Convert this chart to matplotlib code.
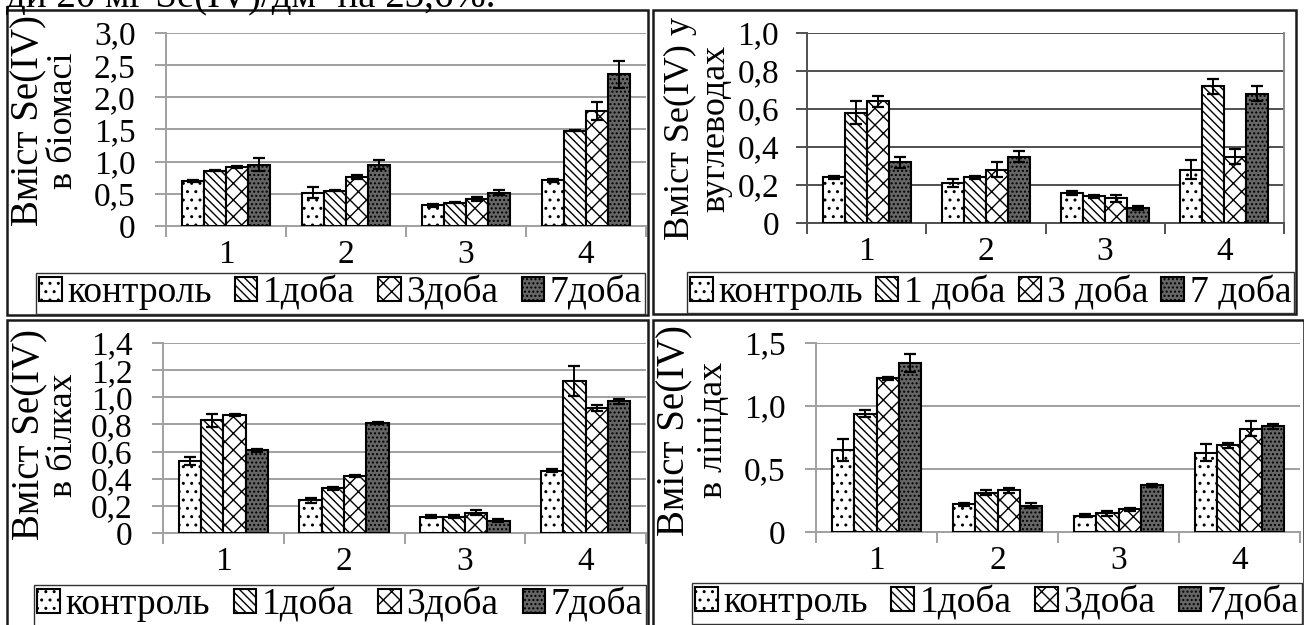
import matplotlib
matplotlib.use("Agg")
import numpy as np
import matplotlib.pyplot as plt
from matplotlib.patches import Rectangle

plt.rcParams["font.family"] = ["Liberation Serif", "DejaVu Serif"]
plt.rcParams["hatch.linewidth"] = 1.0

W, H = 1304, 625

categories = ["1", "2", "3", "4"]
series_hatches = ["..", "\\\\\\\\", "xx", "...."]
series_colors = ["white", "white", "white", "#666666"]

labels_plain = ["контроль", "1доба", "3доба", "7доба"]
labels_spaced = ["контроль", "1 доба", "3 доба", "7 доба"]

# rows: контроль, 1 доба, 3 доба, 7 доба ; columns: categories 1..4
biomass_mean = [
    [0.70, 0.52, 0.32, 0.71],
    [0.86, 0.55, 0.36, 1.48],
    [0.92, 0.76, 0.42, 1.78],
    [0.95, 0.95, 0.52, 2.36],
]
biomass_err = [
    [0.02, 0.08, 0.02, 0.02],
    [0.01, 0.01, 0.01, 0.01],
    [0.02, 0.03, 0.03, 0.14],
    [0.10, 0.07, 0.04, 0.21],
]

carb_mean = [
    [0.24, 0.21, 0.16, 0.28],
    [0.58, 0.24, 0.14, 0.72],
    [0.64, 0.28, 0.13, 0.35],
    [0.32, 0.35, 0.08, 0.68],
]
carb_err = [
    [0.01, 0.02, 0.01, 0.05],
    [0.06, 0.01, 0.01, 0.04],
    [0.03, 0.04, 0.02, 0.04],
    [0.03, 0.03, 0.01, 0.04],
]

protein_mean = [
    [0.53, 0.24, 0.12, 0.46],
    [0.83, 0.33, 0.12, 1.12],
    [0.87, 0.42, 0.15, 0.92],
    [0.61, 0.81, 0.09, 0.97],
]
protein_err = [
    [0.03, 0.02, 0.01, 0.01],
    [0.05, 0.01, 0.01, 0.11],
    [0.01, 0.01, 0.02, 0.02],
    [0.01, 0.01, 0.01, 0.02],
]

lipid_mean = [
    [0.65, 0.22, 0.13, 0.63],
    [0.94, 0.31, 0.15, 0.69],
    [1.22, 0.33, 0.18, 0.82],
    [1.34, 0.21, 0.37, 0.84],
]
lipid_err = [
    [0.09, 0.01, 0.01, 0.07],
    [0.03, 0.02, 0.02, 0.02],
    [0.01, 0.02, 0.01, 0.06],
    [0.07, 0.02, 0.01, 0.02],
]

biomass_ticks = [0, 0.5, 1.0, 1.5, 2.0, 2.5, 3.0]
carb_ticks = [0, 0.2, 0.4, 0.6, 0.8, 1.0]
protein_ticks = [0, 0.2, 0.4, 0.6, 0.8, 1.0, 1.2, 1.4]
lipid_ticks = [0, 0.5, 1.0, 1.5]


def fmt(v):
    if v == 0:
        return "0"
    return f"{v:.1f}".replace(".", ",")


def rect(x0, y0, x1, y1):
    return [x0 / W, 1 - y1 / H, (x1 - x0) / W, (y1 - y0) / H]


def draw_panel(fig, ax_px, box_px, leg_px, means, errs, ticks, ylabels,
               ylabel_pos, ylabel_size, leg_labels, grid_color, tick_pad,
               right_spine=False):
    # panel frame
    x0, y0, x1, y1 = box_px
    fig.add_artist(Rectangle((x0 / W, 1 - y1 / H), (x1 - x0) / W, (y1 - y0) / H,
                             transform=fig.transFigure, fill=False,
                             edgecolor="#1a1a1a", linewidth=1.8, zorder=0))

    ax = fig.add_axes(rect(*ax_px))
    ax.set_xlim(0, 4)
    ax.set_ylim(0, ticks[-1])

    width = 0.185
    x = np.arange(len(categories)) + 0.5
    handles = []
    for i in range(4):
        b = ax.bar(x + (i - 1.5) * width, means[i], width,
                   color=series_colors[i], edgecolor="black",
                   hatch=series_hatches[i], linewidth=1.5, zorder=3)
        handles.append(b)
        ax.errorbar(x + (i - 1.5) * width, means[i], yerr=errs[i], fmt="none",
                    ecolor="black", elinewidth=1.4, capsize=4.5,
                    capthick=1.6, zorder=4)

    ax.set_yticks(ticks)
    ax.set_yticklabels([fmt(t) for t in ticks])
    ax.yaxis.grid(True, color=grid_color, linewidth=1.4, zorder=0)
    ax.set_axisbelow(True)

    ax.set_xticks([0, 1, 2, 3, 4])
    ax.set_xticklabels([])
    ax.set_xticks(x, minor=True)
    ax.set_xticklabels(categories, minor=True)
    ax.tick_params(axis="x", which="major", length=8, width=1.4,
                   color=grid_color, direction="out")
    ax.tick_params(axis="x", which="minor", length=0, pad=10, labelsize=24)
    ax.tick_params(axis="y", length=8, width=1.4, color=grid_color,
                   pad=tick_pad, labelsize=24)

    for s in ["top", "right"]:
        ax.spines[s].set_visible(False)
    if right_spine:
        ax.spines["right"].set_visible(True)
        ax.spines["right"].set_color("#8a8a8a")
        ax.spines["right"].set_linewidth(1.4)
    ax.spines["left"].set_color(grid_color)
    ax.spines["bottom"].set_color(grid_color)
    ax.spines["left"].set_linewidth(1.4)
    ax.spines["bottom"].set_linewidth(1.4)
    ax.patch.set_alpha(0)

    # y-axis label in two lines
    (lx1, lx2, ly) = ylabel_pos
    fig.text(lx1 / W, 1 - ly / H, ylabels[0], rotation=90, ha="center",
             va="center", fontsize=ylabel_size)
    fig.text(lx2 / W, 1 - ly / H, ylabels[1], rotation=90, ha="center",
             va="center", fontsize=26)

    lx0, ly0, lx1_, ly1 = leg_px
    fig.legend(handles, leg_labels, loc="center",
               bbox_to_anchor=rect(lx0, ly0, lx1_, ly1), mode="expand",
               ncol=4, fontsize=27, frameon=True, fancybox=False,
               edgecolor="#333333", framealpha=1, borderpad=0.08,
               handlelength=0.6, handleheight=0.6, handletextpad=0.15,
               columnspacing=0.4, borderaxespad=0)
    return ax


fig = plt.figure(figsize=(W / 100, H / 100), dpi=100)

fig.text(6 / W, 1 - 7 / H, "ди 20 мг Se(IV)/дм³ на 23,6%.", fontsize=28,
         va="baseline", ha="left")

draw_panel(fig, (166, 33, 646, 226), (7, 10, 648, 315), (36, 273, 645, 313),
           biomass_mean, biomass_err, biomass_ticks,
           ["Вміст Se(IV)", "в біомасі"], (29, 64, 121), 28, labels_plain,
           "#a0a0a0", 14)

draw_panel(fig, (807, 33, 1284, 223), (653, 10, 1296, 314), (687, 271, 1294, 314),
           carb_mean, carb_err, carb_ticks,
           ["Вміст Se(IV) у", "вуглеводах"], (680, 716, 128), 26, labels_spaced,
           "#505050", 12, right_spine=True)

draw_panel(fig, (163, 343, 646, 533), (7, 320, 648, 628), (34, 582, 646, 628),
           protein_mean, protein_err, protein_ticks,
           ["Вміст Se(IV)", "в білках"], (30, 64, 435), 28, labels_plain,
           "#a0a0a0", 14)

draw_panel(fig, (816, 343, 1300, 532), (653, 320, 1304, 628), (692, 578, 1302, 628),
           lipid_mean, lipid_err, lipid_ticks,
           ["Вміст Se(IV)", "в ліпідах"], (675, 714, 430), 28, labels_plain,
           "#a0a0a0", 14)

fig.savefig("out.png", dpi=100)
